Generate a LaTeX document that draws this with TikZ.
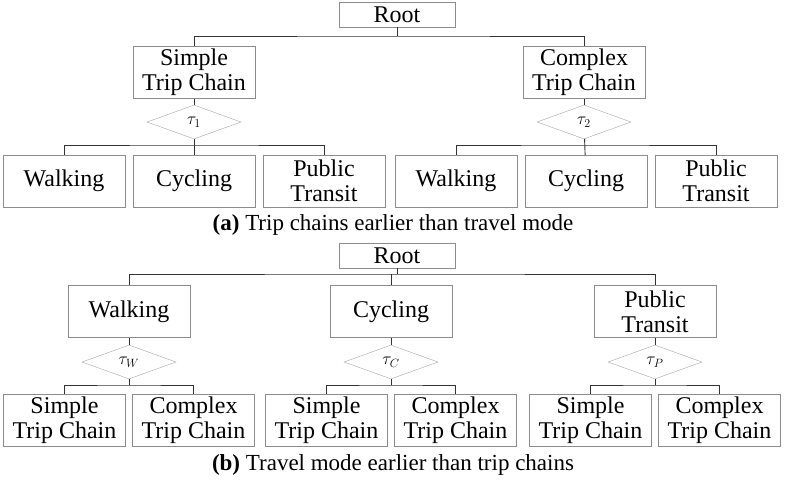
\documentclass[tikz,border=0pt]{standalone}
\usepackage{fontspec}
\setmainfont{Liberation Serif}
\usetikzlibrary{shapes.geometric}
\tikzset{
  box/.style={draw=black!45, minimum width=122pt, minimum height=52pt, inner sep=1pt,
    align=center, font=\fontsize{24}{25}\selectfont},
  rootbox/.style={draw=black!45, minimum width=116pt, minimum height=25pt, inner sep=1pt,
    font=\fontsize{24}{25}\selectfont},
  nest/.style={draw=black!35, diamond, aspect=2.7, minimum width=94pt, minimum height=34pt,
    inner sep=0pt, font=\fontsize{18}{20}\selectfont},
  link/.style={draw=black!80, line width=0.9pt},
  caption/.style={font=\fontsize{23}{25}\selectfont}
}
\begin{document}
\begin{tikzpicture}[x=1pt,y=-1pt]
  \useasboundingbox (0,0) rectangle (786,481);
  % (a) trip chain first
  \node[rootbox] (rootA) at (397,14.5) {Root};
  \node[box] (stc) at (194,72.5) {Simple\\Trip Chain};
  \node[box] (ctc) at (584,72.5) {Complex\\Trip Chain};
  \node[nest] (tau1) at (194,122) {$\tau_1$};
  \node[nest] (tau2) at (584,122) {$\tau_2$};
  \coordinate (barA) at (397,36);
  \draw[link] (rootA) -- (barA);
  \draw[link] (stc.north) |- (barA) -| (ctc.north);
  \draw[link] (stc) -- (tau1);
  \draw[link] (ctc) -- (tau2);
  \foreach \p/\x in {s/0, c/392} {
    \node[box] (\p walk) at (64+\x,181) {Walking};
    \node[box] (\p cyc) at (194+\x,181) {Cycling};
    \node[box] (\p pub) at (324+\x,181) {Public\\Transit};
  }
  \draw[link] (tau1) -- (scyc);
  \draw[link] (swalk.north) |- (tau1.south |- 0,145) -| (spub.north);
  \draw[link] (tau2) -- (ccyc);
  \draw[link] (cwalk.north) |- (tau2.south |- 0,145) -| (cpub.north);
  \node[caption] (capA) at (393,225) {\textbf{(a)} Trip chains earlier than travel mode};

  % (b) travel mode first
  \node[rootbox] (rootB) at (397,255.5) {Root};
  \coordinate (barB) at (397,274);
  \draw[link] (rootB) -- (barB);
  \foreach \m/\x/\t/\lbl in {walk/129/W/Walking, cyc/391/C/Cycling, pub/655/P/Public\\Transit} {
    \node[box] (\m) at (\x,311.5) {\lbl};
    \node[nest] (tau\m) at (\x,362) {$\tau_{\t}$};
    \node[box] (\m s) at (\x-64.5,420) {Simple\\Trip Chain};
    \node[box] (\m c) at (\x+64.5,420) {Complex\\Trip Chain};
    \draw[link] (\m) -- (tau\m);
    \draw[link] (tau\m) -- (tau\m.south |- 0,385);
    \draw[link] (\m s.north) |- (tau\m.south |- 0,385) -| (\m c.north);
  }
  \draw[link] (walk.north) |- (barB) -| (pub.north);
  \draw[link] (cyc.north) -- (cyc.north |- barB);
  \node[caption] (capB) at (393,465) {\textbf{(b)} Travel mode earlier than trip chains};
\end{tikzpicture}
\end{document}
